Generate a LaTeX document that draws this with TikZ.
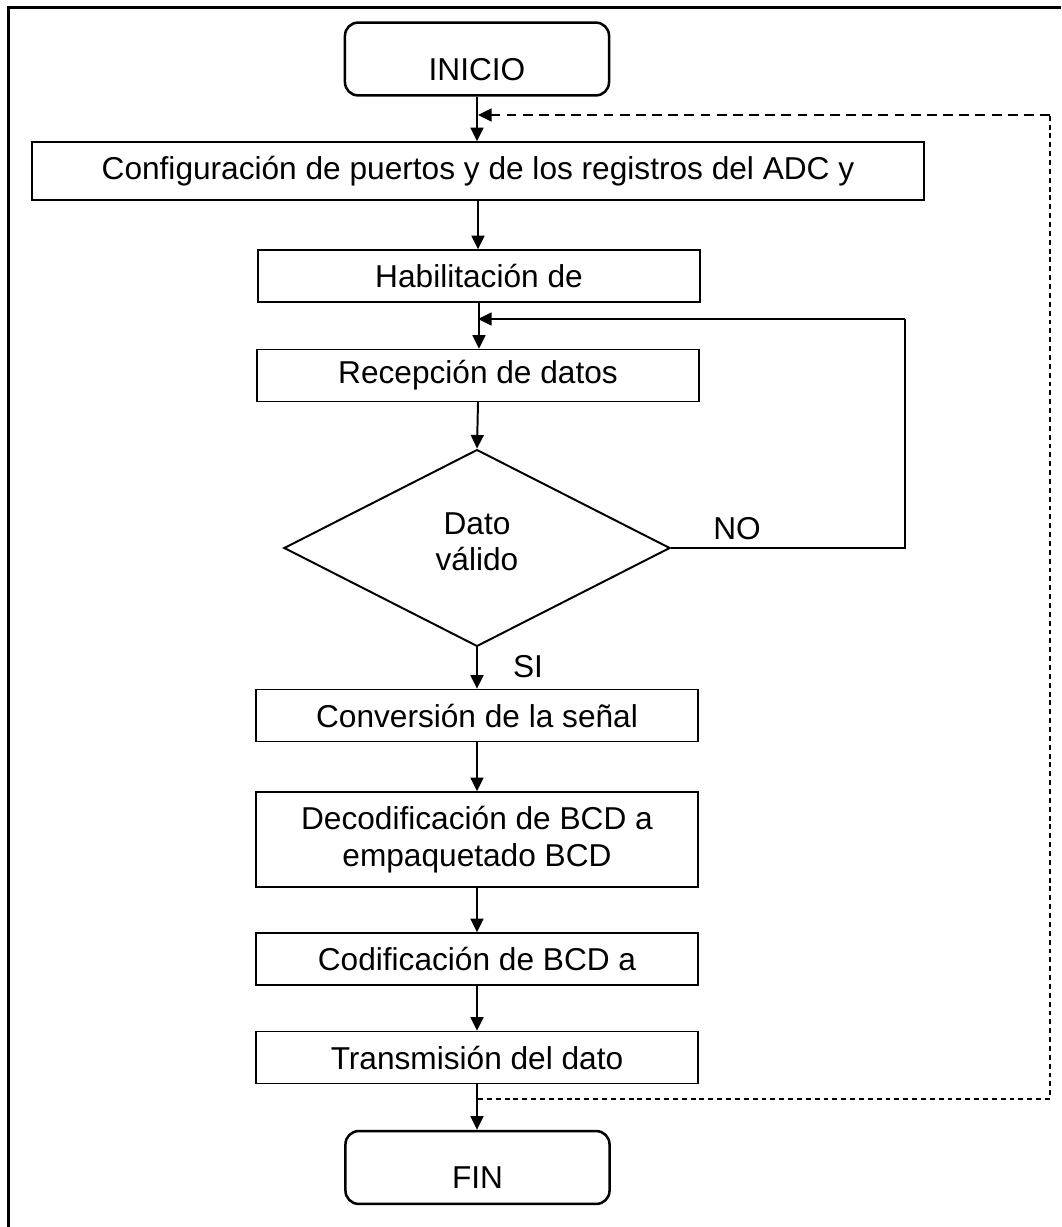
\documentclass[tikz,border=0pt]{standalone}
\usepackage{fontspec}
\setmainfont{Liberation Sans}
\usetikzlibrary{shapes.geometric,arrows.meta}
\begin{document}
\begin{tikzpicture}[x=0.025cm,y=-0.025cm,font=\fontsize{22.5}{26}\selectfont,
  proceso/.style={draw,line width=1pt,rectangle,minimum width=11.05cm,minimum height=1.3cm,inner sep=0pt,align=center},
  terminal/.style={draw,line width=1.8pt,rounded corners=0.33cm,minimum width=6.6cm,minimum height=1.82cm,inner sep=0pt,text height=1.05cm,text depth=0cm},
  decision/.style={draw,line width=1.4pt,diamond,minimum width=9.65cm,minimum height=4.92cm,inner sep=0pt,align=center,text depth=0.33cm},
  flecha/.style={line width=1.4pt,-{Triangle[length=0.34cm,width=0.32cm]}}]
\useasboundingbox (0,0) rectangle (1061,1227);
\draw[line width=2pt] (8.5,1227) -- (8.5,7.5) -- (1061,7.5);
\node[terminal] (inicio) at (477,59) {INICIO};
\node[proceso,minimum width=22.3cm,minimum height=1.45cm] (config) at (478,171) {Configuración de puertos y de los registros del ADC y};
\node[proceso] (habil) at (479,276) {Habilitación de};
\node[proceso] (recep) at (478,375.5) {Recepción de datos};
\node[decision] (dato) at (477,548) {Dato\\válido};
\node[proceso] (conv) at (477,715.5) {Conversión de la señal};
\node[proceso,minimum height=2.375cm] (decod) at (477,839.5) {Decodificación de BCD a\\empaquetado BCD};
\node[proceso] (codif) at (477,959) {Codificación de BCD a};
\node[proceso] (trans) at (477,1057.5) {Transmisión del dato};
\node[terminal] (fin) at (477.5,1167.5) {FIN};
\node (no) at (737,529) {NO};
\node (si) at (528,667) {SI};
\coordinate (entrada) at (478,319);
\coordinate (giro) at (905,319);
\coordinate (salida) at (478,1099);
\coordinate (esqabajo) at (1050,1099);
\coordinate (esqarriba) at (1050,115);
\coordinate (retorno) at (478,115);
\draw[flecha] (inicio.south) -- (inicio.south |- config.north);
\draw[flecha] (config.south) -- (config.south |- habil.north);
\draw[flecha] (habil.south) -- (habil.south |- recep.north);
\draw[flecha] (recep.south) -- (dato.north);
\draw[flecha] (dato.south) -- (dato.south |- conv.north);
\draw[flecha] (conv.south) -- (decod.north);
\draw[flecha] (decod.south) -- (codif.north);
\draw[flecha] (codif.south) -- (trans.north);
\draw[flecha] (trans.south) -- (trans.south |- fin.north);
\draw[line width=1pt] (dato.east) -| (giro);
\draw[flecha] (giro) -- (entrada);
\draw[line width=0.9pt,dash pattern=on 3.5pt off 2.8pt] (salida) -- (esqabajo) -- (esqarriba);
\draw[line width=1.6pt,dash pattern=on 7pt off 4.5pt,-{Triangle[length=0.34cm,width=0.32cm]}] (esqarriba) -- (retorno);
\end{tikzpicture}
\end{document}
